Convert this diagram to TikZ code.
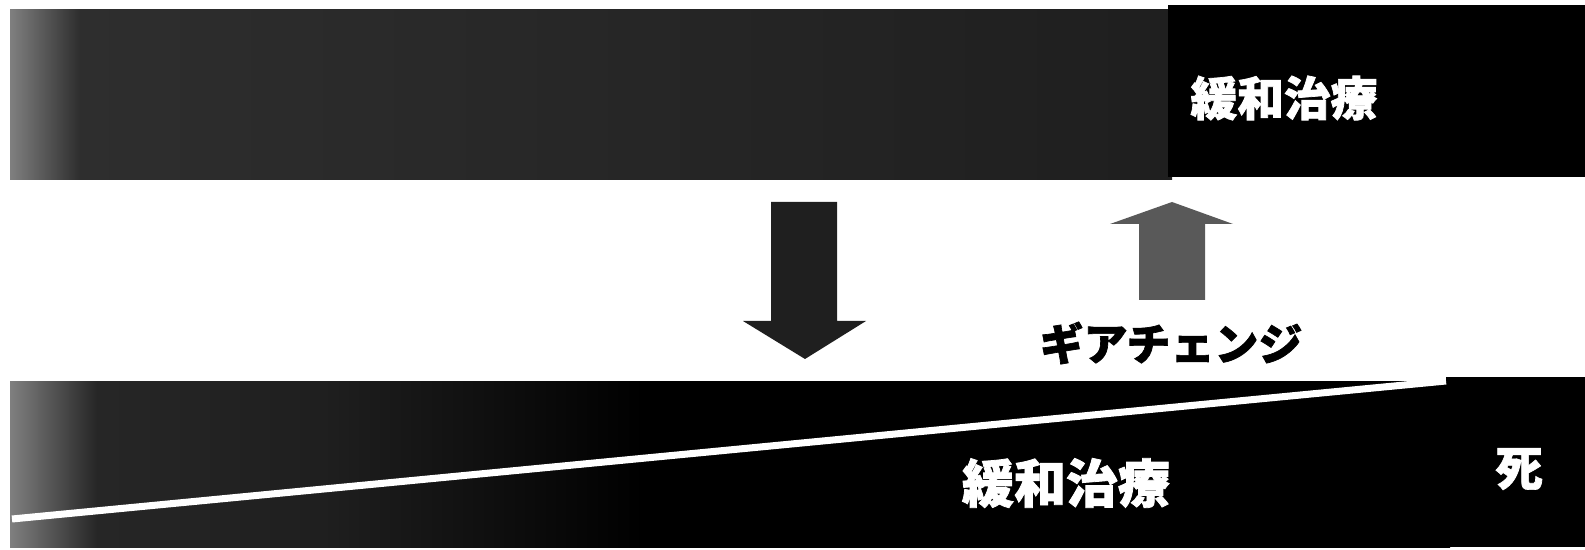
\documentclass[tikz,border=0pt]{standalone}
\usepackage{fontspec}
\newfontfamily\jpfont{Noto Sans CJK JP}[BoldFeatures={FakeBold=1.5}]
\usetikzlibrary{positioning}
\pgfdeclarehorizontalshading{upperfade}{100bp}{color(0bp)=(black!50); color(25bp)=(black!50); color(28bp)=(black!82); color(75bp)=(black!88); color(100bp)=(black!88)}
\pgfdeclarehorizontalshading{lowerfade}{100bp}{color(0bp)=(black!50); color(25bp)=(black!50); color(28bp)=(black!85); color(36bp)=(black!88); color(47bp)=(black); color(100bp)=(black)}

\begin{document}
\begin{tikzpicture}[x=0.02cm,y=-0.02cm,
  care/.style={text=white, inner sep=0pt, font=\jpfont\bfseries\fontsize{26.6}{30}\selectfont}]
\useasboundingbox (0,0) rectangle (1585,550);
% upper band
\shade[shading=upperfade] (10,10) rectangle (1172,180);
\fill[black] (1168,5) rectangle (1585,177);
\node[care] (topcare) at (1284,98) {緩和治療};
% arrows
\fill[black!88] (771,202) -- (837,202) -- (837,321) -- (866,321) -- (805,359) -- (743,321) -- (771,321) -- cycle;
\fill[black!65] (1139,300) -- (1205,300) -- (1205,224) -- (1233,224) -- (1172,202) -- (1110,224) -- (1139,224) -- cycle;
\node[inner sep=0pt, font=\jpfont\bfseries\fontsize{25}{28}\selectfont] (gear) at (1171,343) {ギアチェンジ};
% lower band
\shade[shading=lowerfade] (10,381) rectangle (1450,547);
\fill[black] (1446,377) rectangle (1585,547);
\coordinate (lineL) at (12,519);
\coordinate (lineR) at (1446,381);
\draw[white, line width=4pt] (lineL) -- (lineR);
\node[care, font=\jpfont\bfseries\fontsize{29.6}{32}\selectfont] (lowcare) at (1066,483) {緩和治療};
\node[care, font=\jpfont\bfseries\fontsize{27}{30}\selectfont] (death) at (1519,469) {死};
\end{tikzpicture}
\end{document}
